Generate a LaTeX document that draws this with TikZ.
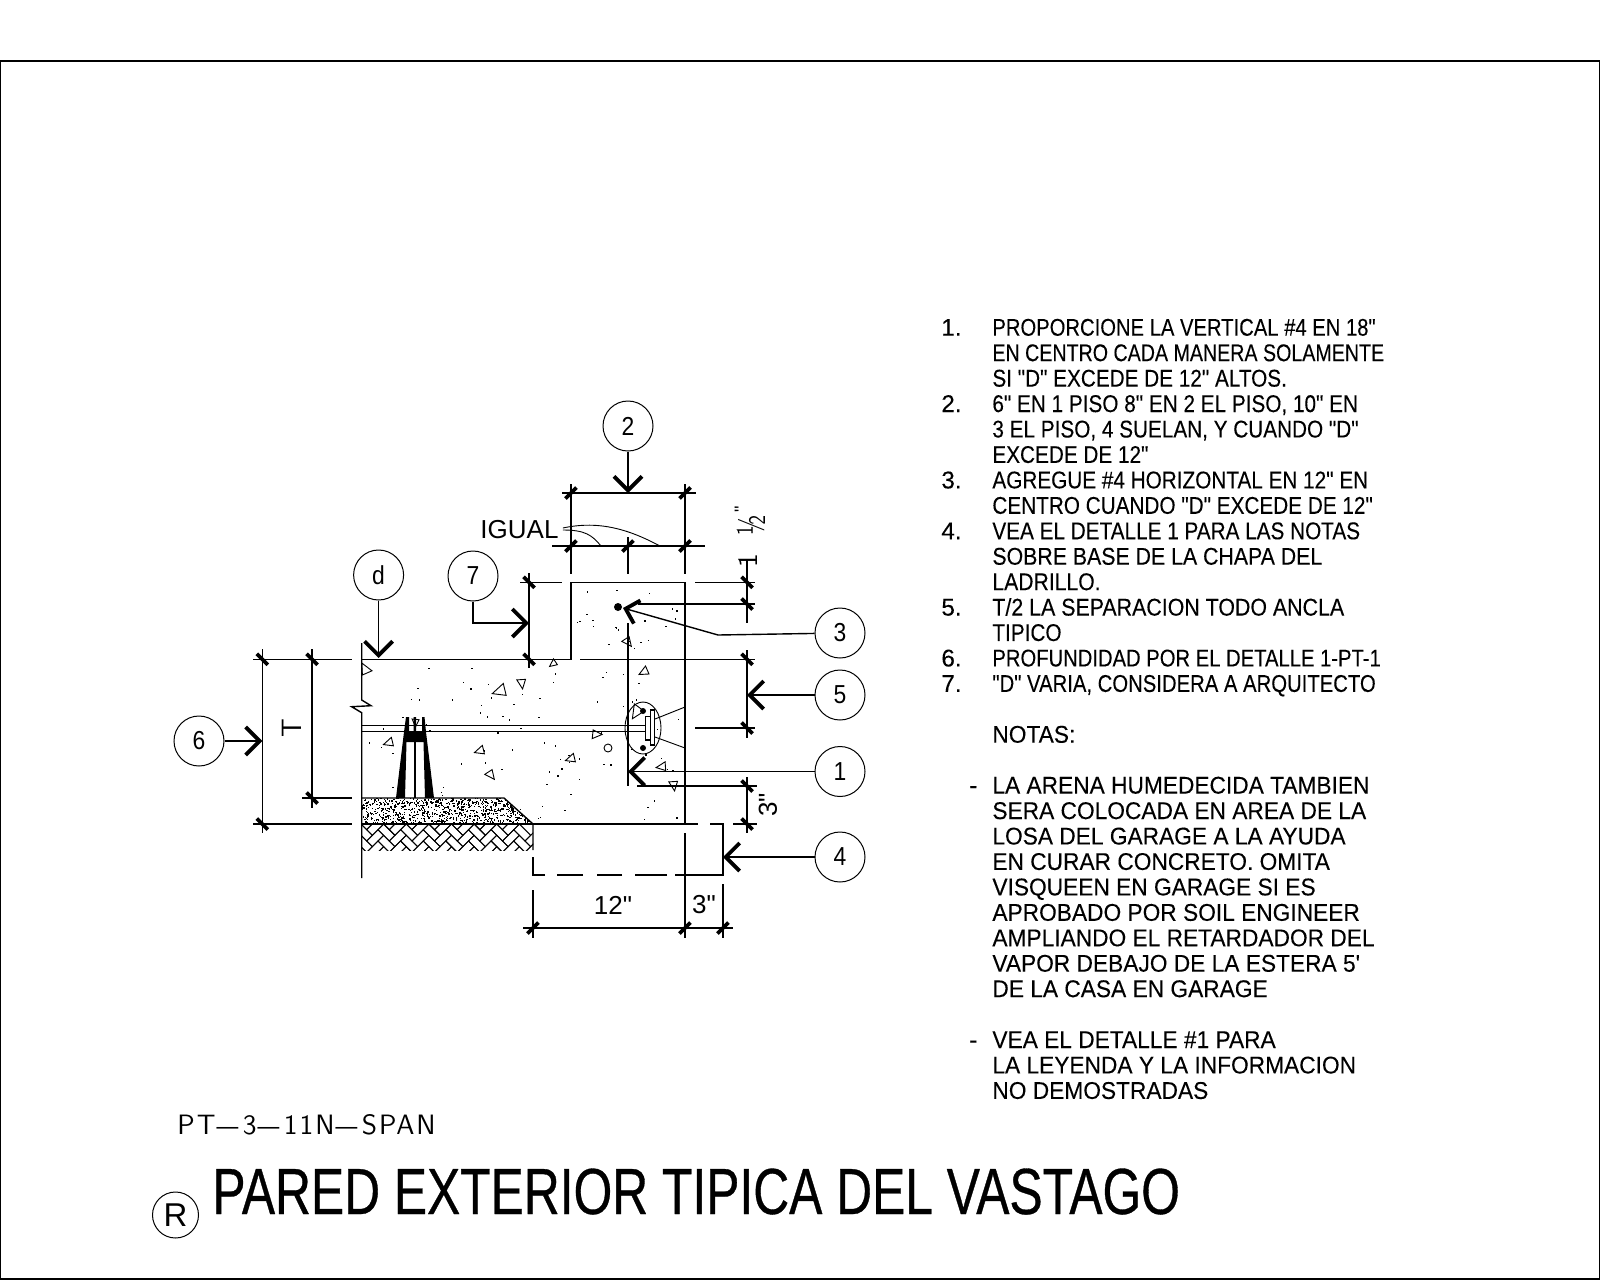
\documentclass[tikz,border=0pt]{standalone}
\usepackage{fontspec}
\usetikzlibrary{arrows.meta}
\setmainfont{Liberation Sans}
\newfontfamily\dimfont{Liberation Sans}
\newfontfamily\numfont[FakeBold=.15]{Liberation Sans}
\newfontfamily\notefont[FakeStretch=0.857,FakeBold=.15]{Liberation Sans}
\newfontfamily\lowfont[FakeStretch=0.939,FakeBold=.12]{Liberation Sans}
\newfontfamily\titlefont[FakeStretch=0.763,FakeBold=.5]{Liberation Sans}
\newfontfamily\tagfont[FakeStretch=0.88]{Liberation Sans}
\newfontfamily\thinfont{Latin Modern Sans}
\newfontfamily\thinwide[LetterSpace=7]{Latin Modern Sans}
\newcommand\wdash{\scalebox{3}[1]{-}}
\newcommand\wl[2]{\scalebox{#1}[1]{#2}}
\tikzset{
  ln/.style={line width=.7pt,black},
  tn/.style={line width=.45pt,black},
  tk/.style={line width=1.9pt,black},
  tagc/.style={circle,draw,line width=.5pt,minimum size=25pt,inner sep=0pt,font=\tagfont\fontsize{13}{15}\selectfont},
  lead/.style={line width=.7pt,-{Straight Barb[line width=1.9pt,length=7pt,width=14pt]}},
  leads/.style={line width=.7pt,-{Straight Barb[line width=1.9pt,length=6pt,width=12pt]}},
  dimtxt/.style={inner sep=0pt,font=\dimfont\fontsize{13}{15}\selectfont},
  notes/.style={inner sep=0pt,anchor=north west,align=left,font=\notefont\fontsize{12.1}{12.72}\selectfont},
  lownotes/.style={inner sep=0pt,anchor=north west,align=left,font=\lowfont\fontsize{12.1}{12.72}\selectfont},
  nums/.style={inner sep=0pt,anchor=north west,align=left,font=\numfont\fontsize{12.1}{12.72}\selectfont}
}
\newcommand\tickv[2]{\draw[tk] (#1,#2) ++(-5.5,-5.5) -- ++(11,11);}
\newcommand\tickh[2]{\draw[tk] (#1,#2) ++(-5.5,5.5) -- ++(11,-11);}
\newcommand\tri[4]{\draw[tn,shift={(#1,#2)},rotate=#4,scale=#3] (-1,.7)--(1,.6)--(.3,-1)--cycle;}
\begin{document}
\begin{tikzpicture}[x=.5pt,y=-.5pt]
\useasboundingbox (0,0) rectangle (1600,1280);
\fill[white] (0,0) rectangle (1600,1280);
\draw[line width=.6pt] (.5,61) rectangle (1599.5,1279);

% concrete stipple
\pgfmathsetseed{4217}
\foreach \i in {1,...,90}{
  \pgfmathsetmacro\px{368+rnd*312}
  \pgfmathsetmacro\py{664+rnd*156}
  \fill (\px,\py) rectangle +(1.4,1.4);
}
\foreach \i in {1,...,22}{
  \pgfmathsetmacro\px{575+rnd*105}
  \pgfmathsetmacro\py{588+rnd*68}
  \fill (\px,\py) rectangle +(1.4,1.4);
}
% sand
\begin{scope}
  \clip (361,798) -- (504,798) -- (533,824) -- (361,824) -- cycle;
  \foreach \i in {1,...,900}{
    \pgfmathsetmacro\px{361+rnd*172}
    \pgfmathsetmacro\py{798+rnd*26}
    \fill (\px,\py) rectangle +(1.3,1.3);
  }
\end{scope}
% herringbone
\begin{scope}
  \clip (361,824) rectangle (533,850);
  \begin{scope}[shift={(361,824)},rotate=-45,scale=8]
    \foreach \n in {-14,...,14}{
      \foreach \k in {-8,...,8}{
        \pgfmathsetmacro\ax{\n+4*\k}
        \pgfmathsetmacro\bx{\n+2+4*\k}
        \pgfmathsetmacro\by{\n-1}
        \draw[tn] (\ax,\n) rectangle ++(2,1);
        \draw[tn] (\bx,\by) rectangle ++(1,2);
      }
    }
  \end{scope}
\end{scope}

% wall / slab outline
\draw[ln] (361.7,643) -- (361.7,700) -- (371,705.7) -- (351.7,706.7) -- (361.7,712.7) -- (361.7,878);
\draw[ln] (361.7,659.3) -- (571,659.3) -- (571,582.3) -- (685,582.3) -- (685,824);
\draw[ln] (580,659.3) -- (755,659.3);
\draw[ln] (361.7,824) -- (698,824);
\draw[ln] (361.7,798) -- (504,798) -- (533,824) -- (533,850);
\draw[ln] (710,824) -- (723,824) -- (723,875) -- (675,875);
\draw[ln] (667,875) -- (635,875);
\draw[ln] (622,875) -- (597,875);
\draw[ln] (583,875) -- (557,875);
\draw[ln] (545,875) -- (533,875) -- (533,857);
\draw[ln] (628,623) -- (628,786);
\draw[ln] (361.7,725.3) -- (645,725.3);
\draw[ln] (361.7,731.3) -- (645,731.3);

% chair
\fill (404,732) -- (396,798) -- (405,798) -- (406.5,742) -- (423.5,742) -- (425,798) -- (434,798) -- (426,732) -- (424.5,717) -- (422,717) -- (422,732) -- (416,732) -- (416,717) -- (413.5,717) -- (413.5,732) -- (409,732) -- (409,717) -- (406,717) -- cycle;
\fill (413.5,742) rectangle (416,798);

% embed plate
\draw[tn] (643,728) ellipse [x radius=18,y radius=26];
\fill (643,711) circle [radius=3];
\fill (643,748) circle [radius=3];
\draw[ln,fill=white] (645.3,716.7) rectangle (650.3,740);
\draw[ln,fill=white] (650.3,710) rectangle (654.7,745);
\draw[tn] (655,719) -- (685,707);
\draw[tn] (655,737) -- (685,748);
\fill (618,607) circle [radius=4];

% aggregate
\tri{366}{669}{6}{-90}
\tri{553}{663}{4}{10}
\tri{500}{690}{7}{-10}
\tri{521}{683}{5}{70}
\tri{627}{642}{5}{100}
\tri{644}{671}{5}{0}
\tri{389}{742}{5}{-10}
\tri{480}{750}{5}{-10}
\tri{490}{775}{5}{100}
\tri{571}{758}{5}{-10}
\tri{596}{735}{5}{150}
\tri{662}{766}{5}{-20}
\tri{673}{785}{5}{70}
\tri{636}{711}{7}{30}
\tri{415}{722}{4}{60}
\draw[tn] (608,748) circle [radius=4];

% extension lines & dimension lines
\draw[ln] (571,484) -- (571,574);
\draw[ln] (685,484) -- (685,574);
\draw[ln] (628,537) -- (628,574);
\draw[ln] (562,493) -- (696,493);
\draw[ln] (552,546) -- (705,546);
\tickh{571}{493}\tickh{685}{493}
\tickh{571}{546}\tickh{628}{546}\tickh{685}{546}
\draw[ln] (520,582.3) -- (562,582.3);
\draw[ln] (695,582.3) -- (755,582.3);
\draw[ln] (638,604) -- (755,604);
\draw[ln] (695,728) -- (755,728);
\draw[ln] (637,786) -- (757,786);
\draw[ln] (733,824) -- (757,824);
\draw[ln] (747,560) -- (747,623);
\draw[ln] (747,650) -- (747,738);
\draw[ln] (747,777) -- (747,833);
\tickv{747}{582.3}\tickv{747}{604}\tickv{747}{659.3}\tickv{747}{728}\tickv{747}{786}\tickv{747}{824}
\draw[ln] (529,573) -- (529,668);
\tickv{529}{582.3}\tickv{529}{659.3}
\draw[ln] (262.3,649) -- (262.3,833);
\draw[ln] (312,649) -- (312,808);
\draw[ln] (253,659.3) -- (352,659.3);
\draw[ln] (253,824) -- (352,824);
\draw[ln] (302,798) -- (352,798);
\tickv{262.3}{659.3}\tickv{262.3}{824}\tickv{312}{659.3}\tickv{312}{798}
\draw[ln] (533,890) -- (533,938);
\draw[ln] (685,833) -- (685,938);
\draw[ln] (723,884) -- (723,938);
\draw[ln] (523,928) -- (733,928);
\tickh{533}{928}\tickh{685}{928}\tickh{723}{928}

% IGUAL leaders
\node[dimtxt,font=\dimfont\fontsize{13}{15}\selectfont] (igual) at (519.5,530) {IGUAL};
\coordinate (ig1) at (660,546);
\coordinate (ig2) at (601,546);
\draw[tn] (igual.east) ++(4,-2) .. controls (600,520) and (630,530) .. (ig1);
\draw[tn] (igual.east) ++(4,0) .. controls (585,530) and (592,535) .. (ig2);

% callouts
\node[tagc] (c2) at (628,426) {2};
\node[tagc] (c7) at (473,576) {7};
\node[tagc] (cd) at (378.6,575) {d};
\node[tagc] (c3) at (840,633) {3};
\node[tagc] (c5) at (840,695) {5};
\node[tagc] (c1) at (840,771.5) {1};
\node[tagc] (c4) at (840,857) {4};
\node[tagc] (c6) at (199,741) {6};
\coordinate (p2) at (628,493);
\coordinate (p7) at (529,623);
\coordinate (pd) at (378.6,658);
\coordinate (k3) at (718,635);
\coordinate (p3) at (623,608);
\coordinate (p5) at (747,695);
\coordinate (p1) at (628,771.5);
\coordinate (p4) at (723,857);
\coordinate (p6) at (262.3,741);
\draw[lead] (c2) -- (p2);
\draw[lead] (c7.south) |- (p7);
\draw[lead] (cd) -- (pd);
\draw[ln] (c3) -- (k3);
\draw[leads] (k3) -- (p3);
\draw[lead] (c5) -- (p5);
\draw[lead] (c1) -- (p1);
\draw[lead] (c4) -- (p4);
\draw[lead] (c6) -- (p6);

% dimension texts
\node[dimtxt] (d12) at (613,905) {12"};
\node[dimtxt] (d3a) at (704,905) {3"};
\node[dimtxt,rotate=90] (d3b) at (768,805) {3"};
\node[inner sep=0pt,rotate=90,font=\thinfont\fontsize{14}{15}\selectfont] (dt) at (292,728) {T};
\node[inner sep=0pt,rotate=90,font=\thinfont\fontsize{14}{15}\selectfont] (d1) at (748,561) {1};
\node[inner sep=0pt,rotate=90,font=\thinfont\fontsize{20}{22}\selectfont] (dh) at (751,525) {\scalebox{.7}[1]{½}};
\node[inner sep=0pt,rotate=90,font=\dimfont\fontsize{9}{10}\selectfont] (dq) at (741,509) {"};

% notes
\node[nums] (numcol) at (941,317.5) {\strut 1.\\ \\ \\ 2.\\ \\ \\ 3.\\ \\ 4.\\ \\ \\ 5.\\ \\ 6.\\ 7.};
\node[notes] (notecol) at (992,317.5) {\strut \wl{.975}{PROPORCIONE LA VERTICAL \#4 EN 18"}\\
\wl{.947}{EN CENTRO CADA MANERA SOLAMENTE}\\
SI "D" EXCEDE DE 12" ALTOS.\\
6" EN 1 PISO 8" EN 2 EL PISO, 10" EN\\
3 EL PISO, 4 SUELAN, Y CUANDO "D"\\
EXCEDE DE 12"\\
AGREGUE \#4 HORIZONTAL EN 12" EN\\
CENTRO CUANDO "D" EXCEDE DE 12"\\
VEA EL DETALLE 1 PARA LAS NOTAS\\
\wl{1.027}{SOBRE BASE DE LA CHAPA DEL}\\
\wl{1.02}{LADRILLO.}\\
\wl{1.03}{T/2 LA SEPARACION TODO ANCLA}\\
TIPICO\\
\wl{.975}{PROFUNDIDAD POR EL DETALLE 1-PT-1}\\
\wl{.978}{"D" VARIA, CONSIDERA A ARQUITECTO}};
\node[lownotes] (lowcol) at (992,724.5) {\strut NOTAS:\\
\mbox{}\\
LA ARENA HUMEDECIDA TAMBIEN\\
SERA COLOCADA EN AREA DE LA\\
LOSA DEL GARAGE A LA AYUDA\\
EN CURAR CONCRETO. OMITA\\
VISQUEEN EN GARAGE SI ES\\
APROBADO POR SOIL ENGINEER\\
AMPLIANDO EL RETARDADOR DEL\\
VAPOR DEBAJO DE LA ESTERA 5'\\
DE LA CASA EN GARAGE\\
\mbox{}\\
VEA EL DETALLE \#1 PARA\\
LA LEYENDA Y LA INFORMACION\\
NO DEMOSTRADAS};
\node[nums] (dash1) at (969,775.4) {\strut -};
\node[nums] (dash2) at (969,1029.8) {\strut -};

% title
\node[inner sep=0pt,anchor=base west,font=\thinwide\fontsize{14}{15}\selectfont] (code) at (177,1134) {PT\wdash 3\wdash 11N\wdash SPAN};
\node[inner sep=0pt,anchor=base west,font=\titlefont\fontsize{32.6}{36}\selectfont] (title) at (212,1214) {PARED EXTERIOR TIPICA DEL VASTAGO};
\node[circle,draw,line width=.5pt,minimum size=23pt,inner sep=0pt,font=\dimfont\fontsize{16.5}{18}\selectfont] (cr) at (175.5,1215) {R};
\end{tikzpicture}
\end{document}
